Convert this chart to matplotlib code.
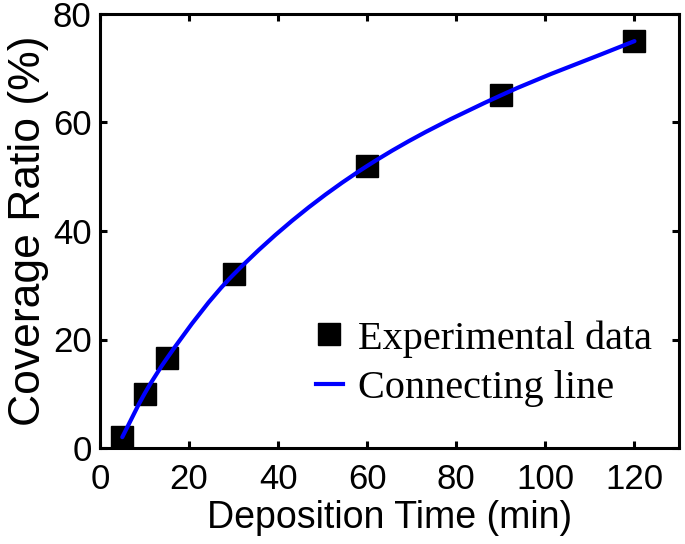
import numpy as np
import matplotlib
matplotlib.use("Agg")
import matplotlib.pyplot as plt
from matplotlib.path import Path
from matplotlib.patches import PathPatch
from matplotlib.lines import Line2D

time_min = [5, 10, 15, 30, 60, 90, 120]
coverage = [2, 10, 16.5, 32, 52, 65, 75]
x_ticks = [0, 20, 40, 60, 80, 100, 120]
y_ticks = [0, 20, 40, 60, 80]

fig = plt.figure(figsize=(6.85, 5.44), dpi=100)
ax = fig.add_axes([100/685, 1-448/544, (679-100)/685, (448-14)/544])

# smooth connecting curve through data (cubic Bezier segments, monotone tangents)
x = np.array(time_min, float)
y = np.array(coverage, float)
d = np.diff(y) / np.diff(x)
m = np.empty_like(x)
m[0] = d[0]
m[-1] = d[-1]
for i in range(1, len(x) - 1):
    h0, h1 = x[i] - x[i-1], x[i+1] - x[i]
    w1, w2 = 2*h1 + h0, h1 + 2*h0
    m[i] = (w1 + w2) / (w1/d[i-1] + w2/d[i])
verts = [(x[0], y[0])]
codes = [Path.MOVETO]
for i in range(len(x) - 1):
    h = x[i+1] - x[i]
    verts += [(x[i] + h/3, y[i] + m[i]*h/3),
              (x[i+1] - h/3, y[i+1] - m[i+1]*h/3),
              (x[i+1], y[i+1])]
    codes += [Path.CURVE4]*3
ax.add_patch(PathPatch(Path(verts, codes), facecolor='none', edgecolor='#0000ff',
                       lw=3.0, capstyle='round', zorder=3))

ax.plot(time_min, coverage, linestyle='none', marker='s', ms=16.5,
        color='black', mec='black', zorder=2)

ax.set_xlim(0, 130)
ax.set_ylim(0, 80)
ax.set_xticks(x_ticks)
ax.set_yticks(y_ticks)
for s in ax.spines.values():
    s.set_linewidth(2.2)
ax.tick_params(direction='in', length=5, width=2.2, top=True, right=True,
               labelsize=25)
ax.tick_params(axis='x', pad=11)
ax.tick_params(axis='y', pad=6)
for lab in ax.get_xticklabels() + ax.get_yticklabels():
    lab.set_family('Liberation Sans')
ax.set_xlabel('Deposition Time (min)', fontsize=27, family='Liberation Sans', labelpad=3)
ax.set_ylabel('Coverage Ratio (%)', fontsize=32, family='Liberation Sans', labelpad=3)

handles = [Line2D([], [], linestyle='none', marker='s', ms=16, color='black'),
           Line2D([], [], color='#0000ff', lw=3.0)]
ax.legend(handles, ['Experimental data', 'Connecting line'], loc='upper left',
          bbox_to_anchor=(316/685, 1-320/544), bbox_transform=fig.transFigure,
          frameon=False, borderpad=0, borderaxespad=0,
          prop={'family': 'Liberation Serif', 'size': 29},
          handlelength=0.67, handletextpad=0.37, labelspacing=0.3)

fig.savefig('out.png', dpi=100)
